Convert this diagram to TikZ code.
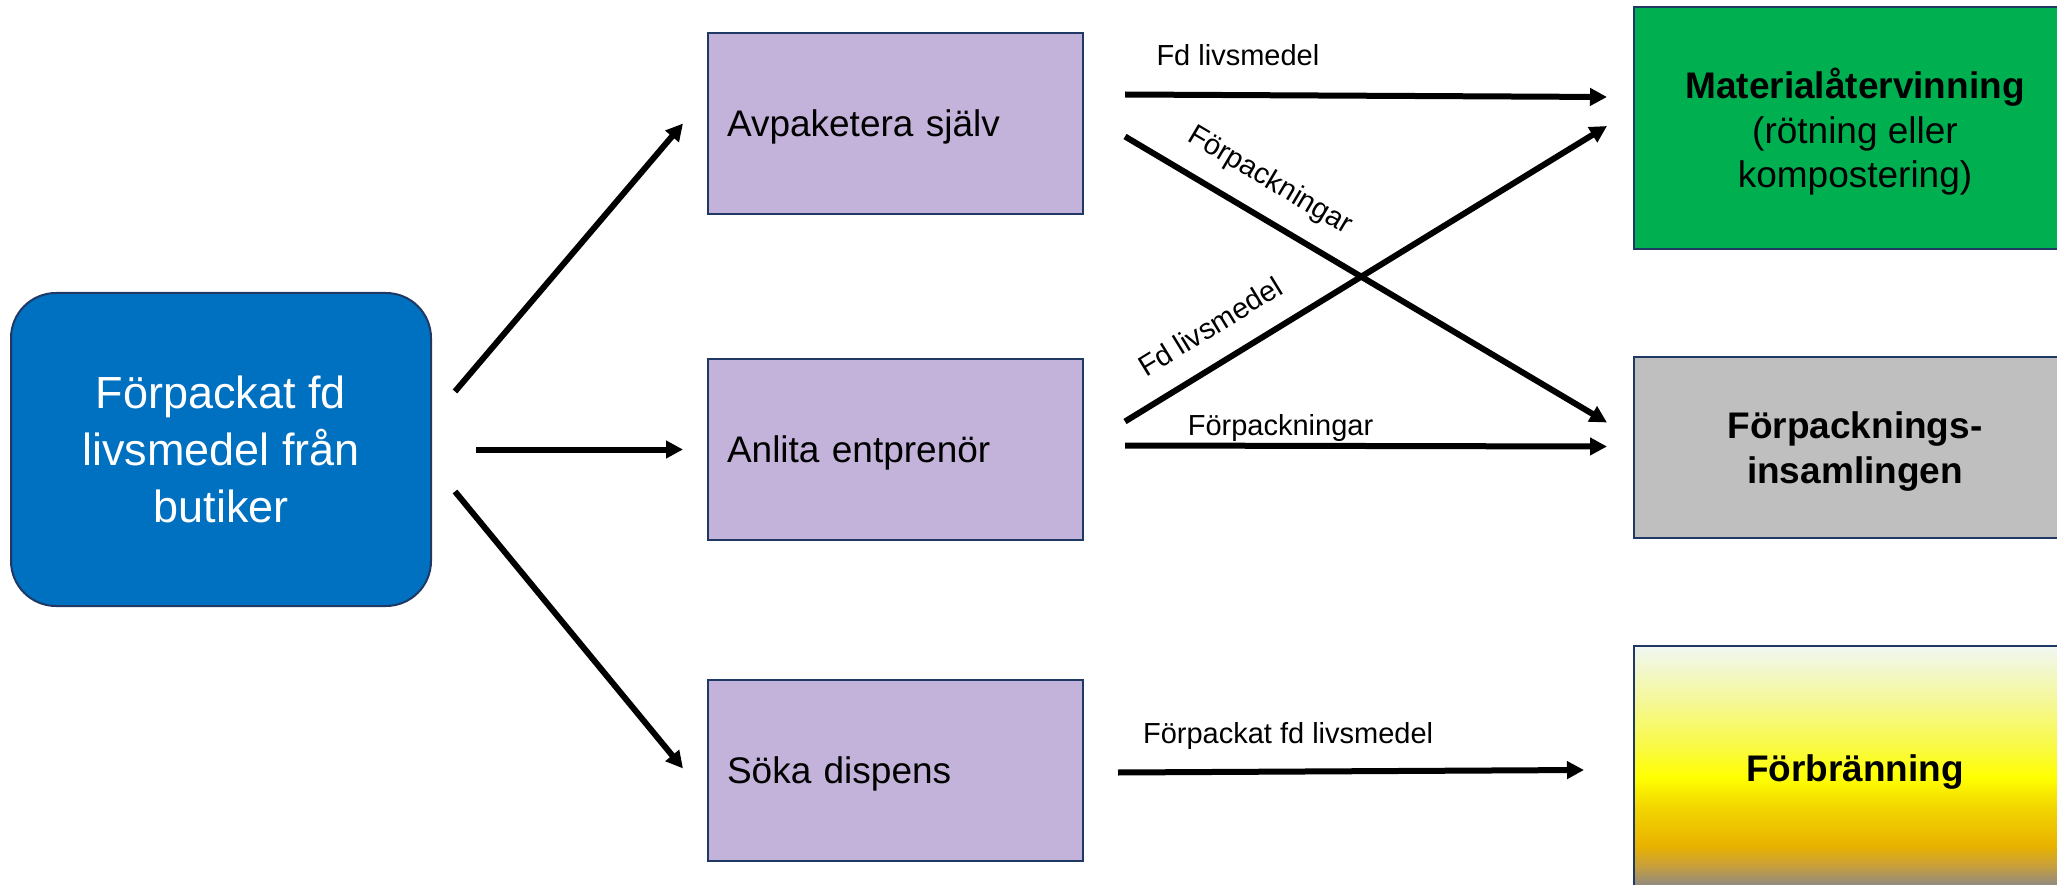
\documentclass[tikz,border=0pt]{standalone}
\usepackage{fontspec}
\setmainfont{Liberation Sans}
\usepackage{tikz}
\usetikzlibrary{positioning,arrows.meta}

\definecolor{srcblue}{RGB}{0,112,192}
\definecolor{navyline}{RGB}{31,56,100}
\definecolor{lilac}{RGB}{195,179,218}
\definecolor{matgreen}{RGB}{0,176,80}
\definecolor{packgrey}{RGB}{191,191,191}
\definecolor{burnA}{RGB}{240,247,242}
\definecolor{burnB}{RGB}{245,248,150}
\definecolor{burnC}{RGB}{250,250,60}
\definecolor{burnD}{RGB}{255,255,0}
\definecolor{burnE}{RGB}{242,214,0}
\definecolor{burnF}{RGB}{232,178,0}
\definecolor{burnG}{RGB}{200,160,60}
\definecolor{burnH}{RGB}{150,140,120}
\pgfdeclareverticalshading{burnfill}{100bp}{color(0bp)=(burnH); color(25bp)=(burnH);
  color(26.5bp)=(burnH); color(30bp)=(burnG); color(34bp)=(burnF); color(42bp)=(burnE);
  color(48bp)=(burnD); color(53.5bp)=(burnC); color(63.5bp)=(burnB); color(75bp)=(burnA);
  color(100bp)=(burnA)}

\begin{document}
\begin{tikzpicture}[
    x=1pt, y=-1pt,
    flow/.style={-{Triangle[length=17pt,width=17pt]}, line width=6pt},
    lbl/.style={font=\fontsize{29}{35}\selectfont, inner sep=2pt},
    srcbox/.style={draw=navyline, line width=2pt, fill=srcblue, rounded corners=45pt,
        minimum width=420pt, minimum height=313pt, align=center, text=white,
        font=\fontsize{45}{57}\selectfont},
    act/.style={draw=navyline, line width=2pt, fill=lilac, minimum height=181pt,
        text width=337pt, inner xsep=19pt, align=left, text depth=0pt,
        font=\fontsize{37}{44.5}\selectfont},
    dest/.style={draw=navyline, line width=2pt, minimum width=442pt, align=center,
        text depth=0pt, font=\fontsize{37}{44.5}\selectfont}]

    \useasboundingbox (0,0) rectangle (2057,885);
    \clip (0,0) rectangle (2057,885);

    \node[srcbox] (src) at (221,449.5) {Förpackat fd\\livsmedel från\\butiker};
    \node[act, right=275pt of src] (ent) {Anlita entprenör};
        \node[act, above=143pt of ent] (avp) {Avpaketera själv};
        \node[act, below=138pt of ent] (dis) {Söka dispens};

    \node[dest, fill=matgreen, minimum height=242pt] (mat) at (1855,128)
        {\textbf{Materialåtervinning}\\(rötning eller\\kompostering)};
    \node[dest, fill=packgrey, minimum height=181pt] (pack) at (1855,447.5)
        {\textbf{Förpacknings-}\\\textbf{insamlingen}};
    \node[dest, shading=burnfill, minimum height=244pt] (burn) at (1855,768)
        {\textbf{Förbränning}};

    \draw[flow] ([shift={(23,-58)}]src.east) -- ([shift={(-24,0)}]avp.west);
    \draw[flow] ([xshift=44pt]src.east) -- ([xshift=-24pt]ent.west);
    \draw[flow] ([shift={(23,42)}]src.east) -- ([shift={(-24,-2)}]dis.west);

    \draw[flow] ([shift={(41,-29)}]avp.east) -- ([shift={(-26,-31)}]mat.west)
        node[lbl, pos=0.055, anchor=base west, yshift=29pt] {Fd livsmedel};
    \draw[flow] ([shift={(41,13)}]avp.east) -- ([shift={(-26,-25)}]pack.west)
        node[lbl, sloped, above=17pt, pos=0.263] {Förpackningar};
    \draw[flow] ([shift={(41,-28)}]ent.east) -- ([shift={(-26,-2)}]mat.west)
        node[lbl, sloped, above=21pt, pos=0.216] {Fd livsmedel};
    \draw[flow] ([shift={(41,-4)}]ent.east) -- ([shift={(-26,-1)}]pack.west)
        node[lbl, pos=0.12, anchor=base west, yshift=10pt] {Förpackningar};
    \draw[flow] ([shift={(34,2)}]dis.east) -- ([shift={(-49,2)}]burn.west)
        node[lbl, pos=0.043, anchor=base west, yshift=29pt] {Förpackat fd livsmedel};

\end{tikzpicture}
\end{document}
